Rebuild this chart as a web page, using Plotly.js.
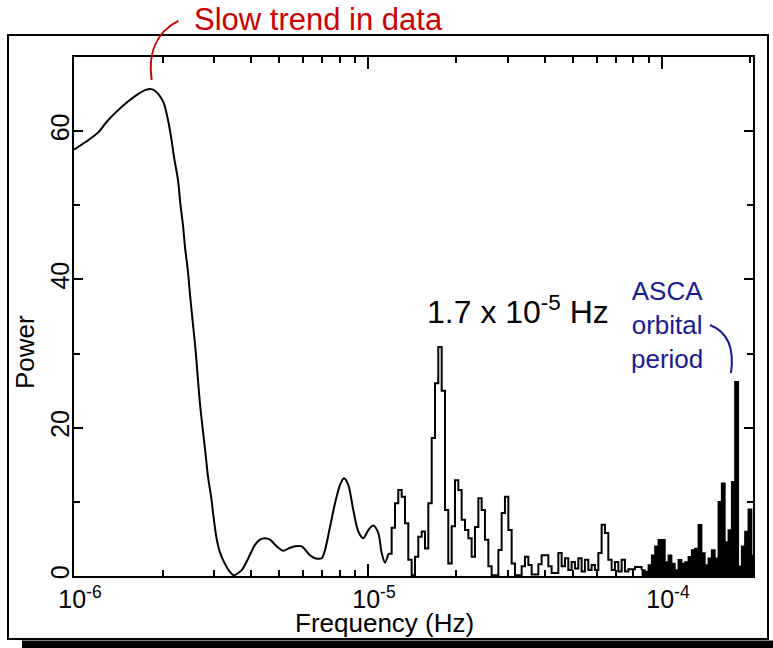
<!DOCTYPE html>
<html><head><meta charset="utf-8">
<script src="https://cdn.plot.ly/plotly-3.0.1.min.js"></script>
<style>html,body{margin:0;padding:0;background:#fff}#chart{width:773px;height:648px}</style>
</head><body><div id="chart"></div>
<script>
// ---- Data (frequency in Hz, power) ----
// smooth low-frequency part
const smoothFreq = [1.000e-6,1.101e-6,1.207e-6,1.288e-6,1.393e-6,1.526e-6,1.651e-6,1.762e-6,1.857e-6,1.946e-6,
  2.019e-6,2.088e-6,2.143e-6,2.189e-6,2.258e-6,2.299e-6,2.348e-6,2.385e-6,2.442e-6,2.487e-6,
  2.540e-6,2.594e-6,2.641e-6,2.689e-6,2.747e-6,2.805e-6,2.856e-6,2.931e-6,2.987e-6,3.048e-6,
  3.130e-6,3.255e-6,3.385e-6,3.493e-6,3.719e-6,3.916e-6,4.127e-6,4.292e-6,4.463e-6,4.642e-6,
  4.892e-6,5.151e-6,5.357e-6,5.646e-6,5.950e-6,6.349e-6,6.603e-6,6.959e-6,7.141e-6,7.426e-6,
  7.723e-6,8.031e-6,8.287e-6,8.571e-6,8.913e-6,9.269e-6,9.639e-6,1.0024e-5,1.0424e-5,1.0840e-5,
  1.1133e-5,1.1424e-5,1.1727e-5];
const smoothPower = [57.5,58.6,59.8,61.2,62.6,64.0,65.0,65.6,65.6,64.9,
  63.8,61.5,59.0,56.5,53.4,50.3,47.3,44.4,41.0,37.5,
  33.9,30.3,26.4,22.8,19.5,16.3,13.4,10.5,7.8,5.3,
  3.3,1.7,0.6,0.1,0.8,2.4,4.2,4.9,5.1,4.9,
  4.0,3.4,3.7,4.0,4.0,2.8,2.4,2.4,3.5,6.6,
  9.8,12.3,13.2,12.3,8.9,6.0,5.1,6.2,6.8,5.8,
  3.1,1.8,3.0];

// stepped mid-frequency part (units of 1e-6 Hz)
const stepFreqMicro = [11.727,12.037,12.356,12.679,13.021,13.362,13.712,14.079,14.451,14.829,
  15.230,15.629,16.038,16.470,16.902,17.344,17.812,18.278,18.757,19.263,
  19.767,20.290,20.826,21.377,21.948,22.523,23.113,23.736,24.357,24.995,
  25.670,26.342,27.032,27.761,28.488,29.234,30.023,30.809,31.615,32.468,
  33.318,34.190,35.113,36.032,36.976,37.973,38.967,39.988,41.067,42.136,
  43.241,44.406,45.571,46.766,48.023,49.279,50.576,51.934,53.291,54.689,
  56.168,57.637,59.147,60.748,62.338,63.970,65.692,67.414,69.177,71.051,
  72.916,74.820,76.836,78.853,80.909,83.098,85.276];
const stepPower = [3.0,6.5,9.8,11.6,10.7,7.1,2.2,0.1,2.6,5.3,
  6.0,3.7,9.8,18.6,26.0,30.9,25.0,8.9,1.7,6.7,
  12.9,11.6,7.6,6.2,5.1,2.6,6.6,10.5,8.9,4.9,
  1.3,0.1,0.1,3.5,8.5,10.7,6.2,1.7,0.1,0.1,
  1.3,2.6,1.5,0.2,0.2,1.6,2.8,2.8,1.3,0.4,
  0.4,3.1,1.3,2.4,0.8,1.9,1.0,2.4,0.6,2.2,
  0.8,1.5,0.8,3.1,6.9,5.8,2.2,0.8,1.9,0.6,
  2.2,0.6,0.9,0.9,1.2,1.2,0.8];

// dense high-frequency part (units of 1e-6 Hz)
const denseFreqMicro = [85.276,87.505,89.876,92.226,94.637,97.190,99.744,102.35,105.11,107.86,
  110.69,113.67,116.64,119.69,122.92,126.14,129.44,132.93,136.41,139.99,
  143.76,147.52,151.38,155.48,159.54,163.71,168.13,172.54,177.06,181.83,
  186.59,191.47,196.64,201.79,207.08];
const densePower = [0.8,0.6,1.5,2.8,4.0,4.9,4.9,1.9,2.8,1.7,
  0.8,2.2,1.7,1.9,2.6,3.5,3.7,6.9,3.1,1.5,
  2.4,3.5,2.4,10.0,12.5,4.6,6.2,12.7,26.2,1.3,
  4.0,6.0,9.0,2.8,2.8];

const xTickVals = [1e-6, 1e-5, 1e-4];
const xTickText = ['10<sup>-6</sup>', '10<sup>-5</sup>', '10<sup>-4</sup>'];
const xMinorVals = [2e-6,3e-6,4e-6,5e-6,6e-6,7e-6,8e-6,9e-6,2e-5,3e-5,4e-5,5e-5,6e-5,7e-5,8e-5,9e-5,2e-4];
const yTickVals = [0, 20, 40, 60];
const yTickText = ['0', '20', '40', '60'];
const yMinorVals = [10, 30, 50];

// ---- Geometry helpers (pixel -> paper) ----
const L = 74, R = 753, T = 57, B = 576;
const px = v => (v - L) / (R - L);
const py = v => (B - v) / (B - T);
const pt = (x, y) => px(x).toFixed(4) + ',' + py(y).toFixed(4);

const toHz = a => a.map(v => v * 1e-6);
const FONT = 'Liberation Sans, Arial, Helvetica, sans-serif';

const traces = [
  {x: smoothFreq, y: smoothPower, type: 'scatter', mode: 'lines',
   line: {color: '#000', width: 2, shape: 'spline', smoothing: 0.8}, hoverinfo: 'skip'},
  {x: toHz(stepFreqMicro), y: stepPower, type: 'scatter', mode: 'lines',
   line: {color: '#000', width: 2, shape: 'hv'}, hoverinfo: 'skip'},
  {x: toHz(denseFreqMicro), y: densePower, type: 'scatter', mode: 'lines',
   line: {color: '#000', width: 1.5, shape: 'hv'}, fill: 'tozeroy', fillcolor: '#000', hoverinfo: 'skip'}
];

const layout = {
  width: 773, height: 648, autosize: false,
  margin: {l: L, r: 773 - R, t: T, b: 648 - B, pad: 0},
  paper_bgcolor: '#fff', plot_bgcolor: '#fff',
  showlegend: false,
  font: {family: FONT, color: '#000'},
  xaxis: {
    type: 'log', range: [-6, Math.log10(2.04e-4)],
    tickmode: 'array', tickvals: xTickVals, ticktext: xTickText,
    ticks: 'inside', ticklen: 12, tickwidth: 2, tickcolor: '#000',
    ticklabelshift: 6,
    minor: {tickmode: 'array', tickvals: xMinorVals, ticks: 'inside', ticklen: 6, tickwidth: 2, tickcolor: '#000', showgrid: false},
    showline: true, linecolor: '#000', linewidth: 2, mirror: 'ticks',
    showgrid: false, zeroline: false,
    tickfont: {size: 25, family: FONT, color: '#000'}
  },
  yaxis: {
    range: [0, 70],
    tickmode: 'array', tickvals: yTickVals, ticktext: yTickText,
    ticks: 'inside', ticklen: 9, tickwidth: 2, tickcolor: '#000',
    ticklabelposition: 'outside', ticklabelstandoff: -7,
    minor: {tickmode: 'array', tickvals: yMinorVals, ticks: 'inside', ticklen: 6, tickwidth: 2, tickcolor: '#000', showgrid: false},
    showline: true, linecolor: '#000', linewidth: 2, mirror: 'ticks',
    showgrid: false, zeroline: false, tickangle: -90,
    tickfont: {size: 25, family: FONT, color: '#000'}
  },
  shapes: [
    {type: 'rect', xref: 'paper', yref: 'paper', x0: px(8), x1: px(768), y0: py(639), y1: py(35),
     line: {color: '#000', width: 2}, fillcolor: 'rgba(0,0,0,0)', layer: 'below'},
    {type: 'rect', xref: 'paper', yref: 'paper', x0: px(22), x1: px(773), y0: py(648), y1: py(640.5),
     line: {width: 0}, fillcolor: '#000', layer: 'below'},
    {type: 'path', xref: 'paper', yref: 'paper',
     path: 'M ' + pt(151.7, 80) + ' C ' + pt(148, 55) + ' ' + pt(155, 33) + ' ' + pt(178.3, 21),
     line: {color: '#cc0000', width: 2}},
    {type: 'path', xref: 'paper', yref: 'paper',
     path: 'M ' + pt(710, 325) + ' C ' + pt(725, 331) + ' ' + pt(735, 345) + ' ' + pt(731, 373),
     line: {color: '#1a1a96', width: 2}}
  ],
  annotations: [
    {xref: 'paper', yref: 'paper', x: px(192), y: py(19), xanchor: 'left', yanchor: 'middle',
     text: 'Slow trend in data', showarrow: false, font: {size: 31, color: '#cc0000', family: FONT}},
    {xref: 'paper', yref: 'paper', x: px(518), y: py(310), xanchor: 'center', yanchor: 'middle',
     text: '1.7 x 10<sup>-5</sup> Hz', showarrow: false, font: {size: 32, color: '#000', family: FONT}},
    {xref: 'paper', yref: 'paper', x: px(667), y: py(325), xanchor: 'center', yanchor: 'middle',
     text: 'ASCA<br>orbital<br>period', showarrow: false, align: 'center', font: {size: 26, color: '#1a1a96', family: FONT}},
    {xref: 'paper', yref: 'paper', x: px(384), y: py(623), xanchor: 'center', yanchor: 'middle',
     text: 'Frequency (Hz)', showarrow: false, font: {size: 26, color: '#000', family: FONT}},
    {xref: 'paper', yref: 'paper', x: px(25), y: py(352), xanchor: 'center', yanchor: 'middle', textangle: -90,
     text: 'Power', showarrow: false, font: {size: 26, color: '#000', family: FONT}}
  ]
};

Plotly.newPlot('chart', traces, layout, {staticPlot: true, displayModeBar: false});
</script>
</body></html>
